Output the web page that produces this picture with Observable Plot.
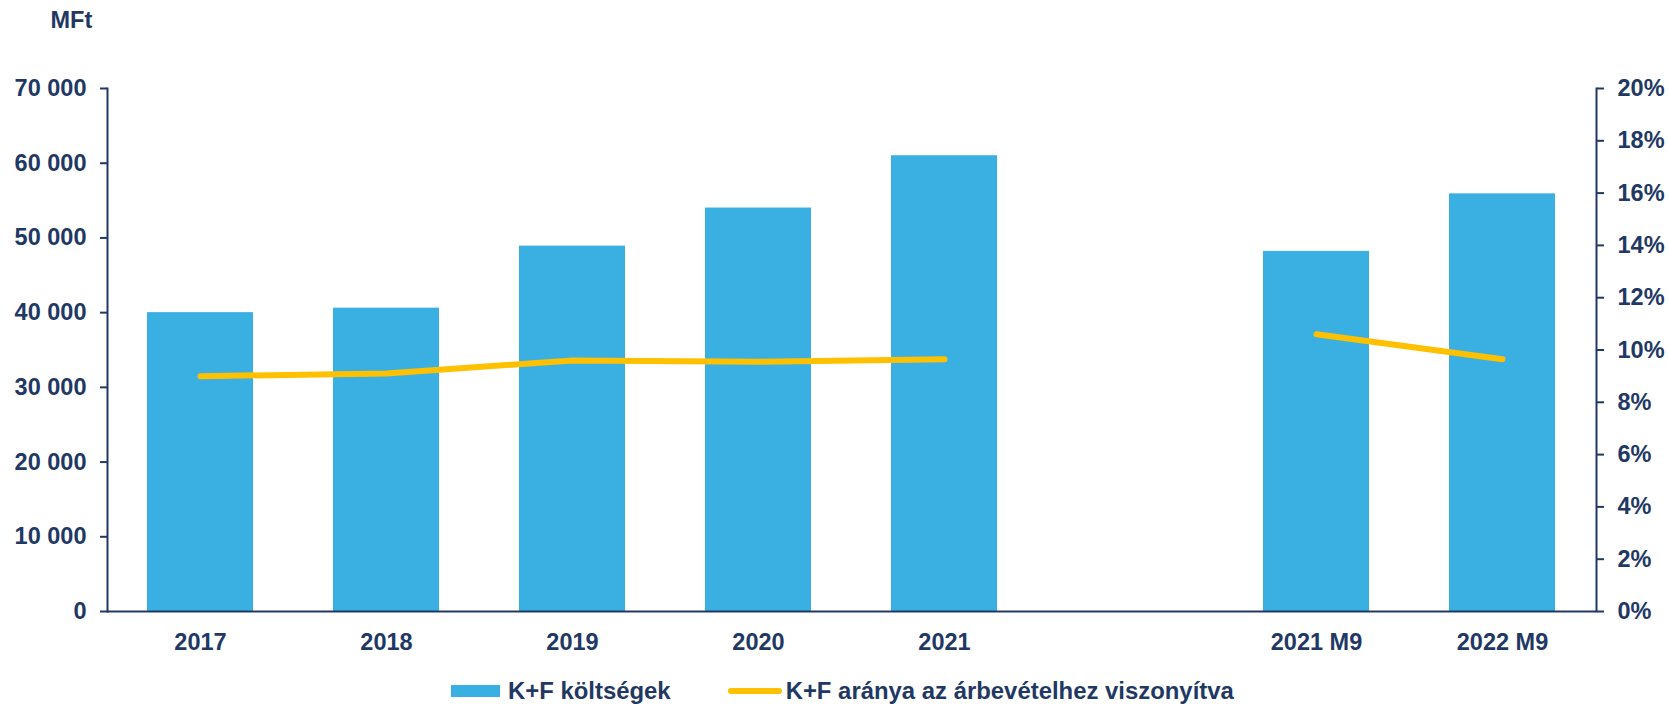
<!DOCTYPE html>
<html>
<head>
<meta charset="utf-8">
<script src="https://cdn.jsdelivr.net/npm/d3@7"></script>
<script src="https://cdn.jsdelivr.net/npm/@observablehq/plot@0.6"></script>
<style>
  body { margin: 0; background: #fff; font-family: "Liberation Sans", Arial, sans-serif; }
  #legend { display: flex; align-items: center; height: 36px; padding-top: 5px; padding-left: 451px;
            font: bold 23.9px "Liberation Sans", Arial, sans-serif; color: #1F3864; }
  .sw { width: 49px; height: 12px; background: #3AB0E2; margin-right: 8px; }
  .ln { width: 54px; height: 6px; border-radius: 3px; background: #FFC000; margin-left: 57px; margin-right: 4px; }
</style>
</head>
<body>
<div id="chart"></div>
<script>
const categories = ["2017", "2018", "2019", "2020", "2021", "2021 M9", "2022 M9"];
const segments = ["a", "a", "a", "a", "a", "b", "b"];
const costs = [40000, 40600, 48900, 54000, 61000, 48200, 55900];
const ratios = [9.0, 9.1, 9.6, 9.55, 9.65, 10.6, 9.65];
const xDomain = ["2017", "2018", "2019", "2020", "2021", " ", "2021 M9", "2022 M9"];
const leftTicks = [0, 10000, 20000, 30000, 40000, 50000, 60000, 70000];
const rightTicks = [0, 2, 4, 6, 8, 10, 12, 14, 16, 18, 20];

const yMax = 70000, pMax = 20, k = yMax / pMax;
const navy = "#1F3864";
const table = categories.map((c, i) => ({cat: c, seg: segments[i], cost: costs[i], ratio: ratios[i]}));
const fmt = d => d3.format(",")(d).replace(/,/g, " ");

const plot = Plot.plot({
  width: 1669,
  height: 668,
  marginLeft: 107,
  marginRight: 73,
  marginTop: 88,
  marginBottom: 57,
  style: {fontFamily: "'Liberation Sans', Arial, sans-serif", fontWeight: "bold", fontSize: "23.5px", color: navy, background: "#fff"},
  x: {type: "band", domain: xDomain, paddingInner: 0.43, paddingOuter: 0.215},
  y: {domain: [0, yMax]},
  marks: [
    Plot.barY(table, {x: "cat", y: "cost", fill: "#3AB0E2"}),
    Plot.lineY(table, {x: "cat", y: d => d.ratio * k, z: "seg", stroke: "#FFC000", strokeWidth: 6, strokeLinecap: "round", strokeLinejoin: "round"}),
    Plot.ruleY([0], {stroke: navy, strokeWidth: 2}),
    Plot.frame({anchor: "left", stroke: navy, strokeWidth: 2}),
    Plot.frame({anchor: "right", stroke: navy, strokeWidth: 2}),
    Plot.axisY({anchor: "left", ticks: leftTicks, tickFormat: fmt, tickSize: 7, tickPadding: 14, strokeWidth: 2, label: null}),
    Plot.axisY({anchor: "right", ticks: rightTicks.map(p => p * k), tickFormat: d => Math.round(d / k) + "%", tickSize: 7, tickPadding: 14, strokeWidth: 2, label: null}),
    Plot.axisX({tickSize: 0, tickPadding: 22, label: null}),
    Plot.text(["MFt"], {frameAnchor: "top-left", textAnchor: "start", lineAnchor: "middle", dx: -57, dy: -68})
  ]
});
document.getElementById("chart").appendChild(plot);
</script>
<div id="legend"><div class="sw"></div><span>K+F költségek</span><div class="ln"></div><span>K+F aránya az árbevételhez viszonyítva</span></div>
</body>
</html>
